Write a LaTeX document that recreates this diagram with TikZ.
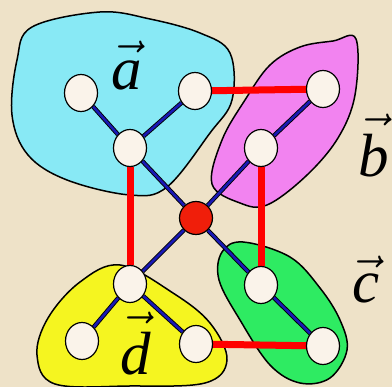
\documentclass[tikz,border=0pt]{standalone}
\usepackage{fix-cm}
\usepackage{fontspec}
\setmainfont{Liberation Serif}
\usetikzlibrary{shapes.geometric}
\definecolor{paper}{RGB}{238,226,200}
\definecolor{blobcyan}{RGB}{136,233,245}
\definecolor{blobpink}{RGB}{242,131,240}
\definecolor{blobyellow}{RGB}{245,245,32}
\definecolor{blobgreen}{RGB}{46,235,98}
\definecolor{nodefill}{RGB}{250,243,234}
\definecolor{linkred}{RGB}{255,0,0}
\definecolor{hubred}{RGB}{240,30,10}
\definecolor{bondblue}{RGB}{25,25,180}
\pgfdeclarelayer{blobs}
\pgfdeclarelayer{links}
\pgfsetlayers{blobs,links,main}

\begin{document}
\begin{tikzpicture}[x=1pt, y=-1pt,
  vertex/.style={ellipse, draw, line width=1.2pt, fill=nodefill, minimum width=33pt, minimum height=37pt, inner sep=0pt},
  hub/.style={circle, draw, line width=1.2pt, fill=hubred, minimum size=33pt, inner sep=0pt},
  bond/.style={draw=black, line width=0.9pt, double=bondblue, double distance=2.6pt},
  redlink/.style={draw=linkred, line width=7pt},
  blob/.style={draw, line width=1.5pt},
  tag/.style={font=\fontsize{61}{61}\selectfont, inner sep=0pt, anchor=base}]
  \useasboundingbox (0,0) rectangle (392,387);

  % the four groups
  \begin{pgfonlayer}{blobs}
    \fill[paper] (0,0) rectangle (392,387);
    \draw[blob, fill=blobcyan] plot[smooth cycle, tension=0.6] coordinates {
      (32,27) (100,12) (150,19) (200,33) (230,53) (232,100) (210,133)
      (167,187) (130,195) (67,180) (28,155) (12,115) (17,60)};
    \draw[blob, fill=blobpink] plot[smooth cycle, tension=0.6] coordinates {
      (356,39) (355,95) (338,138) (306,176) (267,205) (240,203) (212,184)
      (222,140) (245,100) (270,65) (300,47) (333,41)};
    \draw[blob, fill=blobyellow] plot[smooth cycle, tension=0.6] coordinates {
      (120,265) (173,293) (210,323) (227,360) (205,383) (130,386)
      (55,384) (37,355) (48,318) (80,282)};
    \draw[blob, fill=blobgreen] plot[smooth cycle, tension=0.6] coordinates {
      (243,242) (290,257) (320,288) (340,320) (347,350) (330,378)
      (300,383) (270,365) (240,320) (219,280) (222,252)};
  \end{pgfonlayer}

  \node[vertex] (a1) at (81,93) {};
  \node[vertex] (a2) at (195,91) {};
  \node[vertex] (a3) at (130,148) {};
  \node[vertex] (b1) at (323,89) {};
  \node[vertex] (b2) at (261,148) {};
  \node[hub] (o) at (196,218) {};
  \node[vertex] (c1) at (261,285) {};
  \node[vertex] (c2) at (323,346) {};
  \node[vertex] (d1) at (130,284) {};
  \node[vertex] (d2) at (82,341) {};
  \node[vertex] (d3) at (196,344) {};

  \begin{pgfonlayer}{links}
    \draw[redlink] (a2) -- (b1);
    \draw[redlink] (a3) -- (d1);
    \draw[redlink] (b2) -- (c1);
    \draw[redlink] (d3) -- (c2);
    \draw[bond] (a1) -- (a3) -- (a2);
    \draw[bond] (a3) -- (o) -- (c1) -- (c2);
    \draw[bond] (b1) -- (b2) -- (o) -- (d1);
    \draw[bond] (d2) -- (d1) -- (d3);
  \end{pgfonlayer}

  \node[tag] (tagA) at (127,90) {$\vec{\mbox{\itshape a\rule{0pt}{32pt}}}$};
  \node[tag] (tagB) at (374,177) {$\vec{\mbox{\itshape b\rule{0pt}{46pt}}}$};
  \node[tag] (tagC) at (366,303) {$\vec{\mbox{\itshape c\rule{0pt}{30pt}}}$};
  \node[tag] (tagD) at (136,375) {$\vec{\mbox{\itshape d\rule{0pt}{46pt}}}$};
\end{tikzpicture}
\end{document}
